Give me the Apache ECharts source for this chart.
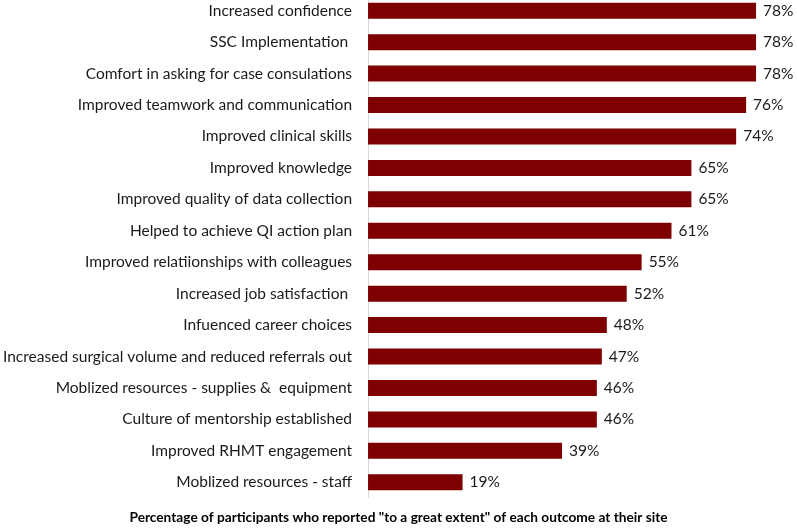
<!DOCTYPE html>
<html><head><meta charset="utf-8">
<script src="https://cdn.jsdelivr.net/npm/echarts@6/dist/echarts.min.js"></script>
<style>html,body{margin:0;padding:0;background:#fff;overflow:hidden}#c{position:absolute;left:0;top:-5px;width:797px;height:533px}</style>
</head><body><div id="c"></div>
<script>
const categories = [
  "Increased confidence",
  "SSC Implementation ",
  "Comfort in asking for case consulations",
  "Improved teamwork and communication",
  "Improved clinical skills",
  "Improved knowledge",
  "Improved quality of data collection",
  "Helped to achieve QI action plan",
  "Improved relatiionships with colleagues",
  "Increased job satisfaction ",
  "Infuenced career choices",
  "Increased surgical volume and reduced referrals out",
  "Moblized resources - supplies &  equipment",
  "Culture of mentorship established",
  "Improved RHMT engagement",
  "Moblized resources - staff"
];
const values = [78, 78, 78, 76, 74, 65, 65, 61, 55, 52, 48, 47, 46, 46, 39, 19];
const axisTitle = 'Percentage of participants who reported "to a great extent" of each outcome at their site';

const font = 'Lato, "Open Sans", sans-serif';
const chart = echarts.init(document.getElementById('c'));
chart.setOption({
  animation: false,
  grid: { left: 366, top: 0, width: 400, height: 503, containLabel: false },
  xAxis: {
    type: 'value', min: 0, max: 80, show: false
  },
  yAxis: {
    type: 'category', data: categories, inverse: true,
    axisLine: { show: true, lineStyle: { color: '#d9d9d9', width: 1 } },
    axisTick: { show: false },
    axisLabel: { color: '#1a1a1a', fontSize: 15.5, fontFamily: font, margin: 16 }
  },
  graphic: [{
    type: 'text', left: 'center', top: 516,
    style: { text: axisTitle, font: 'bold 13.7px ' + font, fill: '#000' }
  }],
  series: [{
    type: 'bar', data: values, barWidth: 16,
    itemStyle: { color: '#7f0000' },
    label: {
      show: true, position: 'right', distance: 7,
      formatter: p => p.value + '%',
      color: '#1a1a1a', fontSize: 15.5, fontFamily: font
    }
  }]
});
</script></body></html>
